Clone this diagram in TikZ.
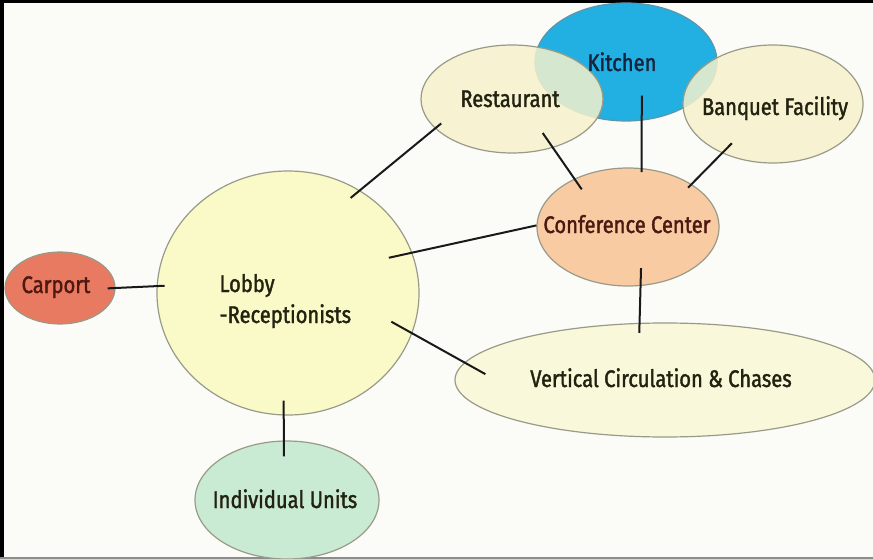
\documentclass[tikz,border=0pt]{standalone}
\usepackage{fontspec}
\setmainfont{Fira Sans}[FakeStretch=0.84, FakeBold=1.6]
\usetikzlibrary{shapes.geometric}

\definecolor{paper}{HTML}{FBFBF8}
\definecolor{kitchenblue}{HTML}{22B0E2}
\definecolor{cream}{HTML}{F6F1CC}
\definecolor{peach}{HTML}{F8CBA2}
\definecolor{lobbyyellow}{HTML}{FAFAC8}
\definecolor{carportred}{HTML}{E87A62}
\definecolor{mint}{HTML}{C9EBD4}
\definecolor{palecream}{HTML}{FAF8DA}
\definecolor{rim}{HTML}{9A9A88}
\definecolor{inkdark}{HTML}{222210}
\definecolor{inkred}{HTML}{4E1812}
\definecolor{inkblue}{HTML}{16243F}

\begin{document}
\begin{tikzpicture}[x=1pt, y=-1pt,
  bubble/.style={ellipse, draw=rim, line width=1.2pt, inner sep=0pt},
  lbl/.style={anchor=base, font=\fontsize{24pt}{30pt}\selectfont, text=inkdark},
  link/.style={line width=2pt, black!90}]
\useasboundingbox (0,0) rectangle (873,559);
\fill[paper] (0,0) rectangle (873,559);
\fill[black] (0,0) rectangle (873,3);
\fill[black] (0,0) rectangle (4,559);
\fill[black!45] (0,557) rectangle (873,559);

% rooms
\node[bubble, fill=kitchenblue, draw=kitchenblue!60!black!70, minimum width=182pt, minimum height=118pt] (kitchen) at (626,62) {};
\node[bubble, fill=cream, fill opacity=0.85, minimum width=182pt, minimum height=108pt] (restaurant) at (512,99) {};
\node[bubble, fill=cream, fill opacity=0.85, minimum width=180pt, minimum height=118pt] (banquet) at (773,104) {};
\node[bubble, fill=peach, minimum width=182pt, minimum height=118pt] (conf) at (628,227) {};
\node[bubble, fill=lobbyyellow, minimum width=262pt, minimum height=244pt] (lobby) at (288,293) {};
\node[bubble, fill=carportred, minimum width=110pt, minimum height=72pt] (carport) at (60,288) {};
\node[bubble, fill=mint, minimum width=184pt, minimum height=118pt] (units) at (287,500) {};
\node[bubble, fill=palecream, minimum width=420pt, minimum height=114pt] (vert) at (665,380) {};

% names
\node[lbl, text=inkblue] (kitchentxt) at (622,71) {Kitchen};
\node[lbl] (restauranttxt) at (510,107) {Restaurant};
\node[lbl] (banquettxt) at (775,115) {Banquet Facility};
\node[lbl, text=inkred] (conftxt) at (627,233) {Conference Center};
\node[lbl, anchor=base west, align=left] (lobbytxt) at (216,323) {Lobby\\[1pt]-Receptionists};
\node[lbl, text=inkred] (carporttxt) at (56,293) {Carport};
\node[lbl] (unitstxt) at (285,508) {Individual Units};
\node[lbl] (verttxt) at (661,387) {Vertical Circulation \& Chases};

% links
\draw[link, shorten <=-8pt, shorten >=-8pt] (carport.east) -- (lobby.177);
\draw[link, shorten <=-12pt, shorten >=-8pt] (lobby.55) -- (restaurant.201);
\draw[link, shorten <=-24pt] (lobby.18) -- (conf.179);
\draw[link, shorten <=-24pt, shorten >=-24pt] (lobby.-18) -- (vert.175);
\draw[link, shorten <=-15pt, shorten >=-16pt] (lobby.-92) -- (units.93);
\draw[link, shorten <=-18pt, shorten >=-13pt] (restaurant.-50) -- (conf.138);
\draw[link, shorten <=-25pt, shorten >=-4pt] (kitchen.-75) -- (conf.77);
\draw[link, shorten <=-14pt, shorten >=-5pt] (banquet.-136) -- (conf.34);
\draw[link, shorten <=-18pt, shorten >=-10pt] (conf.-78) -- (vert.114);
\end{tikzpicture}
\end{document}
